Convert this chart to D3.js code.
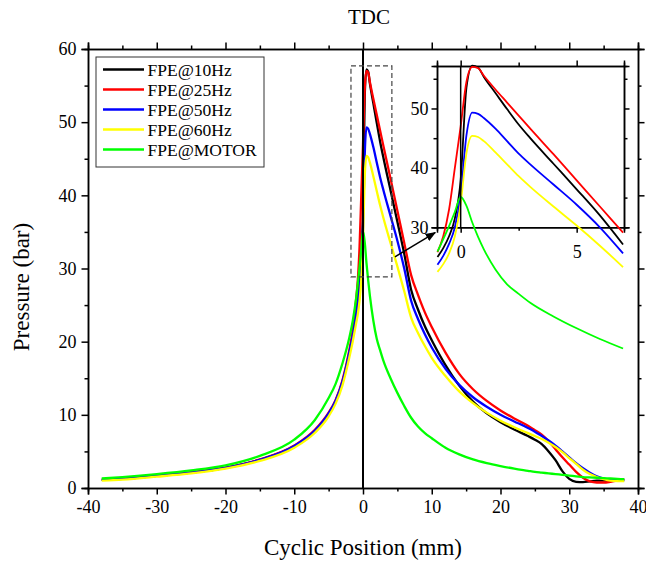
<!DOCTYPE html>
<html>
<head>
<meta charset="utf-8">
<script src="https://cdn.jsdelivr.net/npm/d3@7"></script>
<style>
  body { margin: 0; background: #fff; }
  text { font-family: "Liberation Serif", "Times New Roman", serif; fill: #000; }
</style>
</head>
<body>
<div id="chart"></div>
<script>
// cyclic position (mm), shared by every series
const positions = [
  -38, -35, -30, -25, -20, -15, -10, -7, -5, -4, -3, -2, -1.5,
  -1, -0.75, -0.5, -0.25,
  0, 0.25, 0.5, 0.75, 1,
  1.5, 2, 2.5, 3, 4, 5, 6, 7, 8, 9, 10,
  12, 14, 16, 18, 20, 22, 24, 25, 26, 27, 28, 29, 30, 31, 32, 33, 34, 35, 36, 37, 38
];

// pressure (bar)
const p10Hz = [
  1.1, 1.25, 1.65, 2.1, 2.75, 3.85, 5.7, 7.8, 10.1, 11.8, 14.4, 18.3, 21.0,
  25.0, 26.5, 28.5, 31.5,
  38.0, 53.5, 57.2, 56.9, 55.3,
  52.6, 49.9, 47.3, 45.0, 40.7, 36.4, 32.0, 27.1, 24.4, 22.1, 20.2,
  16.8, 14.0, 11.8, 10.2, 9.0, 8.0, 7.1, 6.6, 6.0, 5.0, 3.8, 2.3, 1.25, 0.85, 0.8, 0.9, 1.0, 1.0, 1.05, 1.1, 1.15
];
const p25Hz = [
  1.15, 1.3, 1.7, 2.15, 2.8, 3.9, 5.8, 7.95, 10.3, 12.0, 14.7, 18.8, 21.5,
  25.8, 28.5, 33.0, 40.0,
  47.0, 54.5, 57.0, 56.8, 55.5,
  53.2, 51.0, 48.8, 46.6, 42.3, 37.9, 33.5, 29.1, 26.4, 24.0, 22.0,
  18.5, 15.6, 13.5, 11.9, 10.6, 9.5, 8.5, 7.9, 7.3, 6.4, 5.3, 4.2, 3.2, 2.2, 1.4, 0.9, 0.75, 0.75, 0.85, 1.0, 1.2
];
const p50Hz = [
  1.1, 1.25, 1.65, 2.1, 2.75, 3.85, 5.75, 7.85, 10.2, 11.9, 14.5, 18.5, 20.8,
  23.7, 25.2, 27.2, 30.0,
  35.5, 45.5, 49.3, 49.1, 48.4,
  46.6, 44.5, 42.4, 40.6, 37.2, 33.8, 30.0, 25.6, 23.1, 21.0, 19.2,
  16.3, 14.1, 12.4, 11.1, 10.0, 9.1, 8.2, 7.7, 7.1, 6.5, 5.8, 5.0, 4.2, 3.4, 2.7, 2.1, 1.6, 1.3, 1.1, 1.05, 1.05
];
const p60Hz = [
  1.0, 1.15, 1.55, 2.0, 2.65, 3.7, 5.5, 7.55, 9.8, 11.5, 14.0, 17.8, 20.0,
  22.5, 23.8, 25.6, 28.5,
  34.0, 42.5, 45.4, 45.2, 44.5,
  42.6, 40.6, 38.6, 36.8, 33.5, 30.3, 26.9, 23.3, 21.2, 19.4, 17.8,
  15.3, 13.2, 11.6, 10.3, 9.2, 8.3, 7.5, 7.1, 6.7, 6.2, 5.6, 4.9, 4.1, 3.3, 2.5, 1.9, 1.5, 1.2, 1.0, 0.95, 0.95
];
const pMotor = [
  1.3, 1.5, 1.9, 2.4, 3.1, 4.4, 6.6, 9.3, 12.3, 14.2, 17.0, 20.5, 22.8,
  25.9, 28.0, 30.2, 32.6,
  35.1, 33.6, 30.8, 28.4, 26.3,
  22.9, 20.4, 18.8, 17.3, 15.0, 13.0, 11.2, 9.6, 8.4, 7.5, 6.8,
  5.5, 4.6, 3.9, 3.4, 3.0, 2.65, 2.35, 2.2, 2.1, 2.0, 1.9, 1.8, 1.7, 1.6, 1.5, 1.45, 1.4, 1.35, 1.3, 1.25, 1.2
];

const seriesNames = ["FPE@10Hz", "FPE@25Hz", "FPE@50Hz", "FPE@60Hz", "FPE@MOTOR"];
const seriesColors = ["#000000", "#ff0000", "#0000ff", "#ffff00", "#00ff00"];
const seriesValues = [p10Hz, p25Hz, p50Hz, p60Hz, pMotor];

const xTicks = [-40, -30, -20, -10, 0, 10, 20, 30, 40];
const yTicks = [0, 10, 20, 30, 40, 50, 60];
const insetXTicks = [0, 5];
const insetYTicks = [30, 40, 50];

const width = 646, height = 562;
const font = '"Liberation Serif", "Times New Roman", serif';

const series = seriesNames.map((name, i) => ({
  name,
  color: seriesColors[i],
  points: positions.map((p, j) => ({ x: p, y: seriesValues[i][j] }))
}));

const svg = d3.select("#chart").append("svg")
  .attr("width", width)
  .attr("height", height)
  .style("background", "#fff");

// main scales
const x = d3.scaleLinear().domain([-40, 40]).range([88, 638]);
const y = d3.scaleLinear().domain([0, 60]).range([488, 49]);

function styleAxis(g, fontSize) {
  g.select(".domain").attr("stroke", "#000").attr("stroke-width", 1.5);
  g.selectAll(".tick line").attr("stroke", "#000").attr("stroke-width", 1.5);
  g.selectAll(".tick text").style("font-size", fontSize + "px").style("font-family", font);
}

// minor ticks
const xMinor = d3.range(-35, 40, 10);
const yMinor = d3.range(5, 60, 10);

[["bottom", 488], ["top", 49]].forEach(([side, pos]) => {
  const ax = side === "bottom" ? d3.axisBottom : d3.axisTop;
  svg.append("g").attr("transform", `translate(0,${pos})`)
    .call(ax(x).tickValues(xMinor).tickSize(3.5).tickFormat(""))
    .call(g => styleAxis(g, 18));
  svg.append("g").attr("transform", `translate(0,${pos})`)
    .call(ax(x).tickValues(xTicks).tickSize(6.5).tickPadding(6)
      .tickFormat(side === "bottom" ? d3.format("d") : ""))
    .call(g => styleAxis(g, 18));
});
[["left", 88], ["right", 638]].forEach(([side, pos]) => {
  const ax = side === "left" ? d3.axisLeft : d3.axisRight;
  svg.append("g").attr("transform", `translate(${pos},0)`)
    .call(ax(y).tickValues(yMinor).tickSize(3.5).tickFormat(""))
    .call(g => styleAxis(g, 18));
  svg.append("g").attr("transform", `translate(${pos},0)`)
    .call(ax(y).tickValues(yTicks).tickSize(6.5).tickPadding(5)
      .tickFormat(side === "left" ? d3.format("d") : ""))
    .call(g => styleAxis(g, 18));
});

// the minus sign in Origin is a plain hyphen
svg.selectAll(".tick text").text(function () { return this.textContent.replace("\u2212", "-"); });

// curves
const line = d3.line()
  .x(d => x(d.x))
  .y(d => y(d.y))
  .curve(d3.curveMonotoneX);

svg.append("g").selectAll("path")
  .data(series)
  .join("path")
  .attr("d", d => line(d.points))
  .attr("fill", "none")
  .attr("stroke", d => d.color)
  .attr("stroke-width", 2.3);

// TDC line
svg.append("line")
  .attr("x1", x(0)).attr("x2", x(0))
  .attr("y1", y(0)).attr("y2", y(60))
  .attr("stroke", "#000").attr("stroke-width", 2);

svg.append("text")
  .attr("x", 369).attr("y", 24)
  .attr("text-anchor", "middle")
  .style("font-size", "21px")
  .text("TDC");

// axis titles
svg.append("text")
  .attr("x", 363).attr("y", 555)
  .attr("text-anchor", "middle")
  .style("font-size", "23px")
  .text("Cyclic Position (mm)");

svg.append("text")
  .attr("transform", "translate(29,287) rotate(-90)")
  .attr("text-anchor", "middle")
  .style("font-size", "23px")
  .text("Pressure (bar)");

// zoom box
svg.append("rect")
  .attr("x", x(-1.75)).attr("y", y(57.7))
  .attr("width", x(4.2) - x(-1.75))
  .attr("height", y(28.85) - y(57.7))
  .attr("fill", "none")
  .attr("stroke", "#444")
  .attr("stroke-width", 1.2)
  .attr("stroke-dasharray", "5,3");

// arrow
svg.append("defs").append("marker")
  .attr("id", "arrow")
  .attr("viewBox", "0 0 10 10")
  .attr("refX", 9).attr("refY", 5)
  .attr("markerWidth", 7).attr("markerHeight", 7)
  .attr("orient", "auto")
  .append("path")
  .attr("d", "M0,1 L10,5 L0,9 Z")
  .attr("fill", "#000");

svg.append("line")
  .attr("x1", x(4.65)).attr("y1", y(31.6))
  .attr("x2", x(10.5)).attr("y2", y(34.9))
  .attr("stroke", "#000").attr("stroke-width", 1.5)
  .attr("marker-end", "url(#arrow)");

// legend
const legend = svg.append("g");
legend.append("rect")
  .attr("x", 96).attr("y", 57)
  .attr("width", 168).attr("height", 110)
  .attr("fill", "#fff")
  .attr("stroke", "#333").attr("stroke-width", 1);

const item = legend.selectAll("g.item")
  .data(series)
  .join("g")
  .attr("class", "item")
  .attr("transform", (d, i) => `translate(0,${69.5 + i * 20})`);
item.append("line")
  .attr("x1", 103).attr("x2", 144)
  .attr("stroke", d => d.color)
  .attr("stroke-width", 2.3);
item.append("text")
  .attr("x", 147.5).attr("y", 0)
  .attr("dy", "0.35em")
  .style("font-size", "17.5px")
  .text(d => d.name);

// inset
const ix = d3.scaleLinear().domain([-1.02, 7.04]).range([437, 624]);
const iy = d3.scaleLinear().domain([30, 57.15]).range([227.3, 66]);

const inset = svg.append("g");
const ixMinor = [2.5];
const iyMinor = [35, 45, 55];

[["bottom", 227.3], ["top", 66]].forEach(([side, pos]) => {
  const ax = side === "bottom" ? d3.axisBottom : d3.axisTop;
  inset.append("g").attr("transform", `translate(0,${pos})`)
    .call(ax(ix).tickValues(ixMinor).tickSize(3.5).tickFormat(""))
    .call(g => styleAxis(g, 18));
  inset.append("g").attr("transform", `translate(0,${pos})`)
    .call(ax(ix).tickValues(insetXTicks).tickSize(5.5).tickPadding(12)
      .tickFormat(side === "bottom" ? d3.format("d") : ""))
    .call(g => styleAxis(g, 18));
});
[["left", 437], ["right", 624]].forEach(([side, pos]) => {
  const ax = side === "left" ? d3.axisLeft : d3.axisRight;
  inset.append("g").attr("transform", `translate(${pos},0)`)
    .call(ax(iy).tickValues(iyMinor).tickSize(3.5).tickFormat(""))
    .call(g => styleAxis(g, 18));
  inset.append("g").attr("transform", `translate(${pos},0)`)
    .call(ax(iy).tickValues(insetYTicks).tickSize(5.5).tickPadding(3)
      .tickFormat(side === "left" ? d3.format("d") : ""))
    .call(g => styleAxis(g, 18));
});

const insetLine = d3.line()
  .x(d => ix(d.x))
  .y(d => iy(d.y))
  .curve(d3.curveMonotoneX);

inset.append("g").selectAll("path")
  .data(series)
  .join("path")
  .attr("d", d => insetLine(d.points.filter(p => p.x >= -1 && p.x <= 7)))
  .attr("fill", "none")
  .attr("stroke", d => d.color)
  .attr("stroke-width", 1.8);

inset.append("line")
  .attr("x1", ix(0)).attr("x2", ix(0))
  .attr("y1", iy(30)).attr("y2", iy(57.15))
  .attr("stroke", "#000").attr("stroke-width", 1.5);
</script>
</body>
</html>
